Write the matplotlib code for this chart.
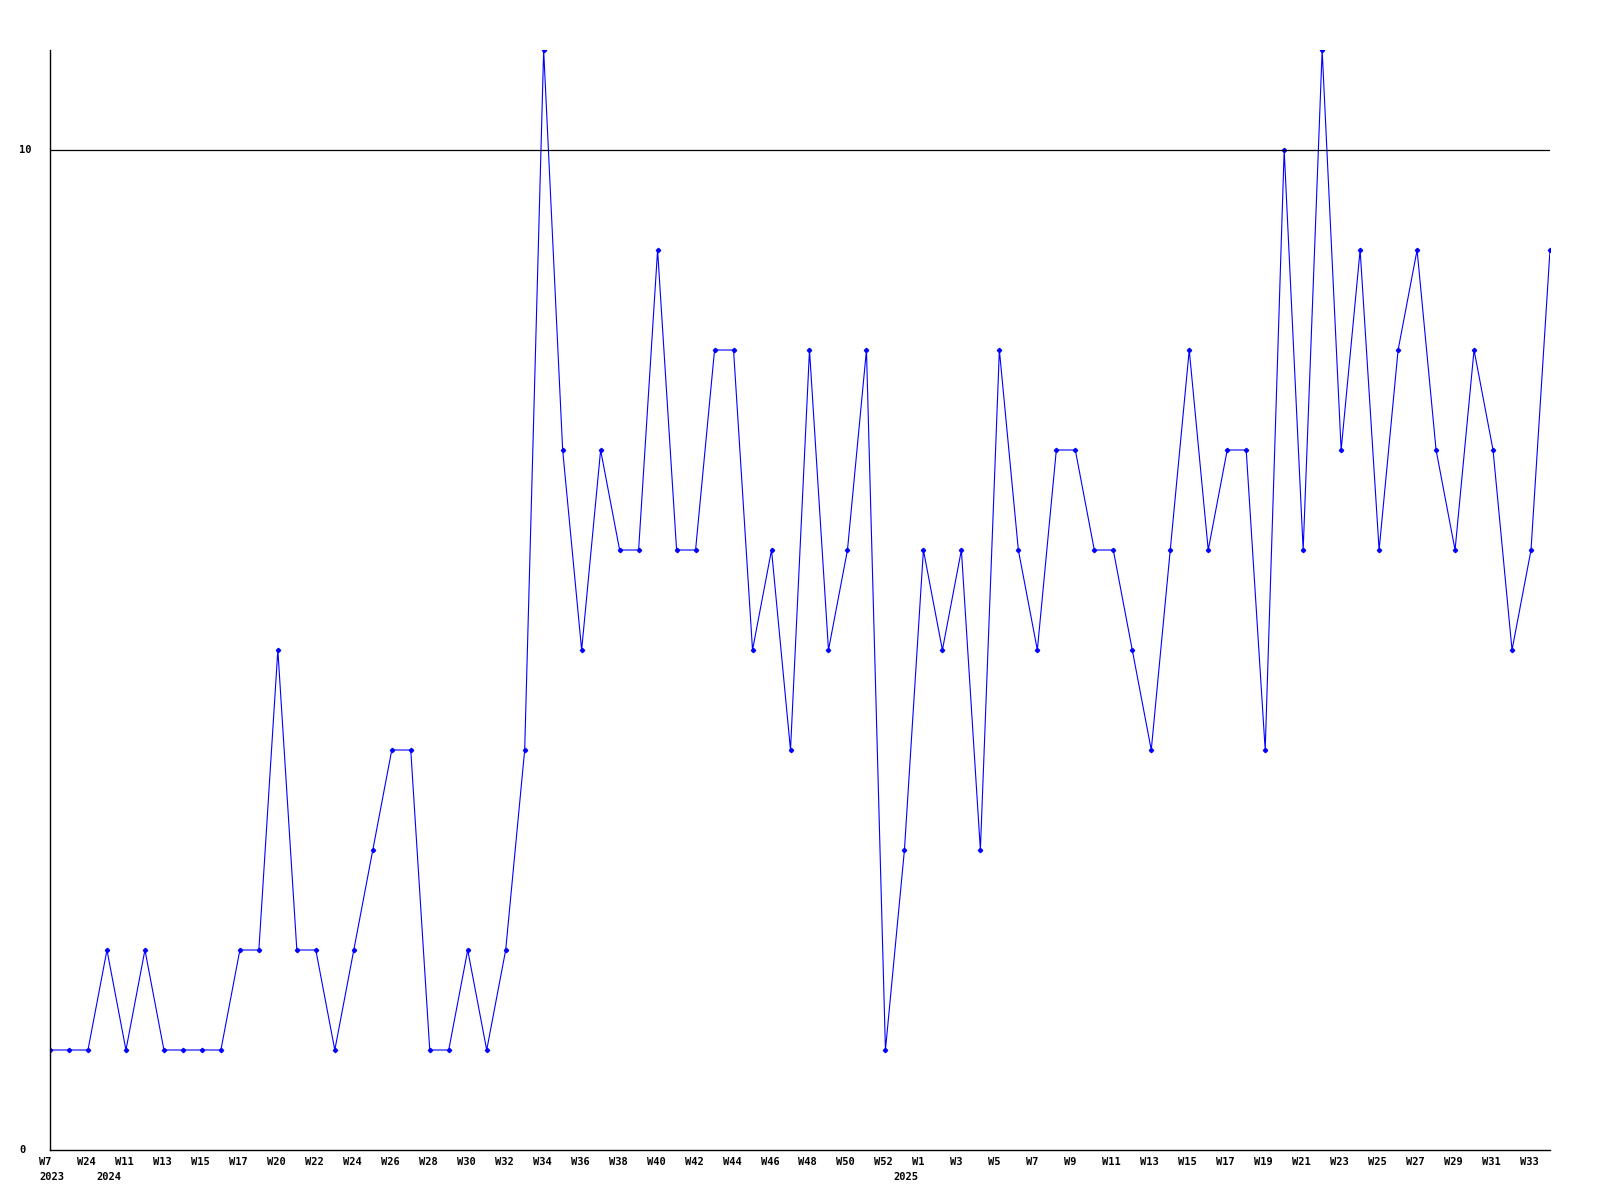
import matplotlib.pyplot as plt
from matplotlib.transforms import ScaledTranslation

# weekly counts, one point per week
values = [1, 1, 1, 2, 1, 2, 1, 1, 1, 1,
          2, 2, 5, 2, 2, 1, 2, 3, 4, 4,
          1, 1, 2, 1, 2, 4, 11, 7, 5, 7,
          6, 6, 9, 6, 6, 8, 8, 5, 6, 4,
          8, 5, 6, 8, 1, 3, 6, 5, 6, 3,
          8, 6, 5, 7, 7, 6, 6, 5, 4, 6,
          8, 6, 7, 7, 4, 10, 6, 11, 7, 9,
          6, 8, 9, 7, 6, 8, 7, 5, 6, 9]
week_labels = ['W7', 'W24', 'W11', 'W13', 'W15', 'W17', 'W20', 'W22', 'W24', 'W26',
               'W28', 'W30', 'W32', 'W34', 'W36', 'W38', 'W40', 'W42', 'W44', 'W46',
               'W48', 'W50', 'W52', 'W1', 'W3', 'W5', 'W7', 'W9', 'W11', 'W13',
               'W15', 'W17', 'W19', 'W21', 'W23', 'W25', 'W27', 'W29', 'W31', 'W33']
year_labels = ['2023', '2024', '2025']
year_pos = [0, 3, 45]

x = list(range(len(values)))

fig = plt.figure(figsize=(16, 12), dpi=100)
ax = fig.add_axes([50/1600, 50/1200, 1500/1600, 1100/1200])
ax.plot(x, values, color='#0000ff', linewidth=0.8, marker='D', markersize=2.2)
ax.axhline(10, color='black', linewidth=0.9)
ax.set_xlim(0, len(values) - 1)
ax.set_ylim(0, 11)
ax.spines['top'].set_visible(False)
ax.spines['right'].set_visible(False)
ax.spines['left'].set_linewidth(1)
ax.spines['bottom'].set_linewidth(1)
ax.set_xticks([])
ax.set_yticks([])

font = dict(family='DejaVu Sans Mono', fontweight='bold', fontsize=7.5)
ytr = ax.get_yaxis_transform()
for v in [0, 10]:
    ax.text(-0.0205, v, str(v), transform=ytr, ha='left', va='center', **font)

off = ScaledTranslation(-11/100, 0, fig.dpi_scale_trans)
xtr = ax.get_xaxis_transform() + off
for i, lab in enumerate(week_labels):
    ax.text(2 * i, -0.011, lab, transform=xtr, ha='left', va='center', clip_on=False, **font)
for p, lab in zip(year_pos, year_labels):
    ax.text(p, -0.025, lab, transform=xtr, ha='left', va='center', clip_on=False, **font)

fig.savefig('out.png', dpi=100)
